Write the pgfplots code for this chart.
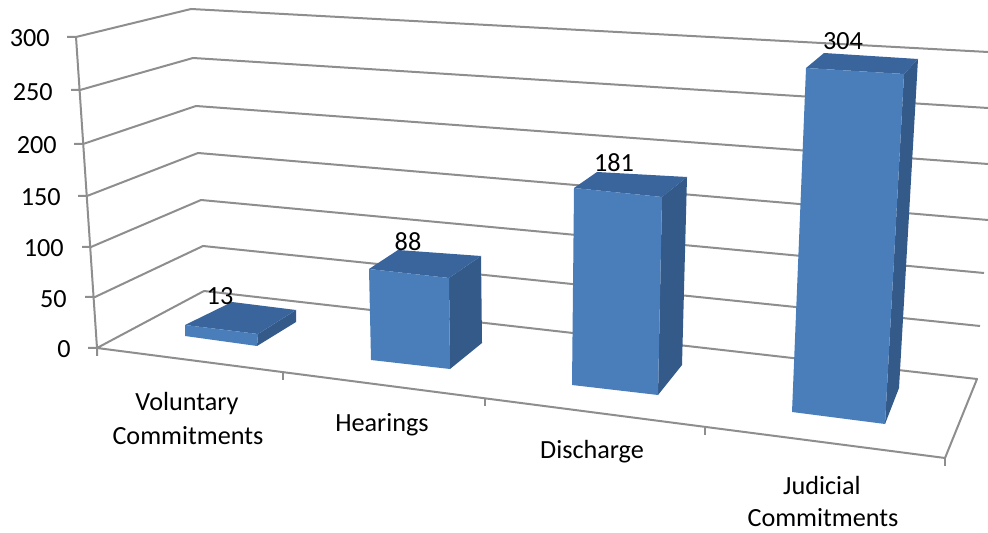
\documentclass[border=0pt]{standalone}
\usepackage{fontspec}
\setmainfont{Carlito}
\usepackage{pgfplots}
\pgfplotsset{compat=1.18}
\definecolor{gridc}{HTML}{8E8E8E}
\definecolor{frontc}{HTML}{4A7EBB}
\definecolor{topc}{HTML}{39659C}
\definecolor{sidec}{HTML}{345A8A}
\pgfplotsset{
  gl/.style={draw=gridc,line width=1pt,no markers,line join=round},
  fr/.style={fill=frontc,draw=none,no markers},
  tp/.style={fill=topc,draw=none,no markers},
  sd/.style={fill=sidec,draw=none,no markers},
  lab/.style={draw=none,no markers,nodes near coords,point meta=explicit symbolic,
    every node near coord/.append style={anchor=#1,inner sep=0pt,text=black,
      font=\fontsize{13.1}{15}\selectfont}},
}
\begin{document}
\begin{tikzpicture}
\useasboundingbox (0,0) rectangle (494pt,266.5pt);
\begin{axis}[
  at={(0,0)},anchor=south west,
  scale only axis,width=494pt,height=266.5pt,
  xmin=0,xmax=988,ymin=0,ymax=533,y dir=reverse,
  hide axis,
]
% back wall and side wall gridlines, 300 down to 0
\addplot[gl] coordinates {(67,37)(76,37)(191,9)(988,52)};
\addplot[gl] coordinates {(71,90)(80,90)(193,58)(988,108)};
\addplot[gl] coordinates {(74,144)(83,144)(196,106)(988,164)};
\addplot[gl] coordinates {(78,196)(87,196)(198,153)(988,220)};
\addplot[gl] coordinates {(82,247)(91,247)(201,200)(984,273)};
\addplot[gl] coordinates {(85,297)(95,297)(203,246)(980,326)};
% floor
\addplot[gl] coordinates {(88,348)(97,348)(204,291)(977,379)(945,458)(97,348)};
\addplot[gl] coordinates {(76,37)(97,348)(97,356)};
\addplot[gl] coordinates {(283,371)(283,380)};
\addplot[gl] coordinates {(485,398)(485,406)};
\addplot[gl] coordinates {(705,427)(705,435)};
\addplot[gl] coordinates {(945,458)(945,466)};
% Voluntary Commitments = 13
\addplot[sd] coordinates {(258,334)(296,310)(296,322)(257,346)} -- cycle;
\addplot[tp] coordinates {(185,325)(232,302)(296,310)(258,334)} -- cycle;
\addplot[fr] coordinates {(185,325)(258,334)(257,346)(185,336)} -- cycle;
% Hearings = 88
\addplot[sd] coordinates {(449,278)(481,256)(482,343)(450,369)} -- cycle;
\addplot[tp] coordinates {(369,269)(398,250)(481,256)(449,278)} -- cycle;
\addplot[fr] coordinates {(369,269)(449,278)(450,369)(371,360)} -- cycle;
% Discharge = 181
\addplot[sd] coordinates {(662,197)(687,177)(682,365)(658,395)} -- cycle;
\addplot[tp] coordinates {(574,188)(597,172)(687,177)(662,197)} -- cycle;
\addplot[fr] coordinates {(574,188)(662,197)(658,395)(572,385)} -- cycle;
% Judicial Commitments = 304
\addplot[sd] coordinates {(904,74)(918,59)(899,388)(885,424)} -- cycle;
\addplot[tp] coordinates {(806,68)(824,53)(918,59)(904,74)} -- cycle;
\addplot[fr] coordinates {(806,68)(904,74)(885,424)(792,412)} -- cycle;
% value labels
\addplot[lab=center] table[x=x,y=y,meta=v] {
x y v
220 296 13
408 242 88
614 163 181
843 41 304
};
% axis tick labels
\addplot[lab=east] table[x=x,y=y,meta=v] {
x y v
50 38 300
53 92 250
57 145 200
61 197 150
64 248 100
67 299 50
71 349 0
};
% category labels
\addplot[lab=center] table[x=x,y=y,meta=v] {
x y v
187 404 Voluntary
188 436 Commitments
382 425 Hearings
592 452 Discharge
822 485 Judicial
823 518 Commitments
};
\end{axis}
\end{tikzpicture}
\end{document}
